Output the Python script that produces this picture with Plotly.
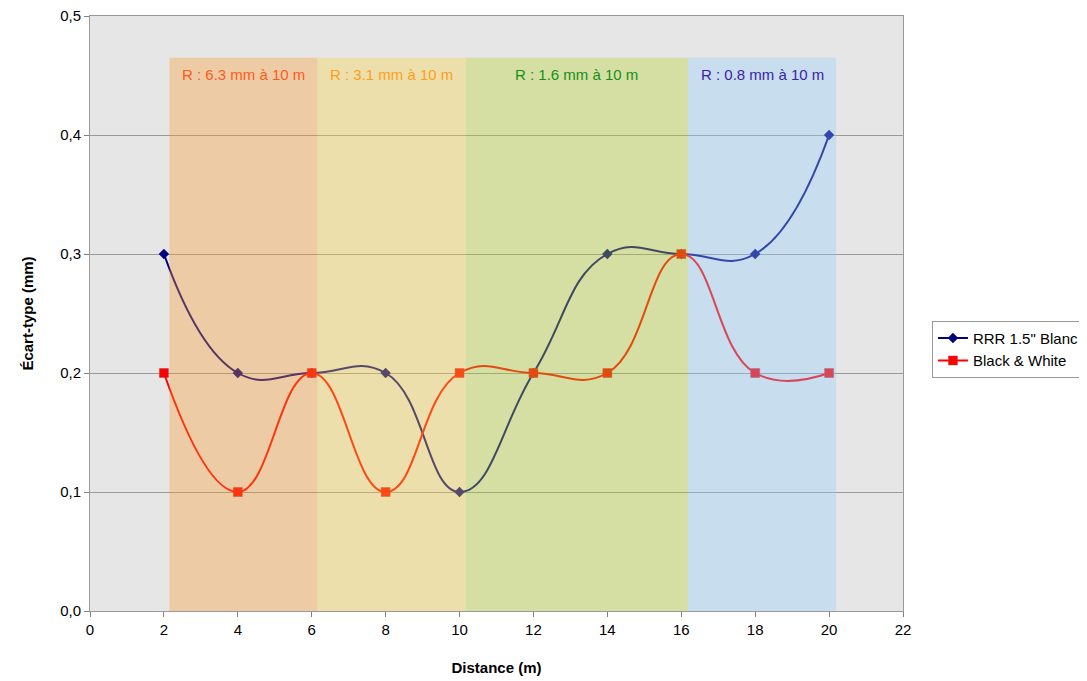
import plotly.graph_objects as go

distance = [2, 4, 6, 8, 10, 12, 14, 16, 18, 20]
rrr_blanc = [0.3, 0.2, 0.2, 0.2, 0.1, 0.2, 0.3, 0.3, 0.3, 0.4]
black_white = [0.2, 0.1, 0.2, 0.1, 0.2, 0.2, 0.2, 0.3, 0.2, 0.2]

band_starts = [2.15, 6.15, 10.17, 16.18]
band_ends = [6.15, 10.17, 16.18, 20.19]
band_top = 0.465
band_labels = ["R : 6.3 mm à 10 m", "R : 3.1 mm à 10 m", "R : 1.6 mm à 10 m", "R : 0.8 mm à 10 m"]
band_fill = ["rgb(250,153,44)", "rgb(250,210,59)", "rgb(181,210,36)", "rgb(144,204,253)"]
label_colors = ["#FF5A20", "#FF9E20", "#139013", "#3A22A8"]

fig = go.Figure()
fig.add_trace(go.Scatter(
    x=distance, y=rrr_blanc, name='RRR 1.5" Blanc', mode="lines+markers",
    line=dict(color="#000080", width=2, shape="spline", smoothing=1.3),
    marker=dict(symbol="diamond", size=8, color="#000080"),
))
fig.add_trace(go.Scatter(
    x=distance, y=black_white, name="Black & White", mode="lines+markers",
    line=dict(color="#FF0000", width=2, shape="spline", smoothing=1.3),
    marker=dict(symbol="square", size=9, color="#FF0000", line=dict(color="#B04040", width=0.5)),
))

for x0, x1, c, lab, lc in zip(band_starts, band_ends, band_fill, band_labels, label_colors):
    fig.add_shape(type="rect", xref="x", yref="y", x0=x0, x1=x1, y0=0, y1=band_top,
                  fillcolor=c, opacity=0.35, line=dict(width=0), layer="above")
    fig.add_annotation(x=(x0 + x1) / 2, y=0.451, xref="x", yref="y", text=lab,
                       showarrow=False, font=dict(family="Liberation Sans, Arial", size=15, color=lc))

fig.update_layout(
    width=1087, height=681,
    margin=dict(l=82, r=192, t=8, b=78),
    paper_bgcolor="white", plot_bgcolor="#E6E6E6",
    separators=", ",
    font=dict(family="Liberation Sans, Arial", size=15, color="black"),
    showlegend=True,
    legend=dict(xref="container", yref="container", x=0.85, y=0.499,
                xanchor="left", yanchor="middle",
                bgcolor="white", bordercolor="#999999", borderwidth=1,
                font=dict(size=15), itemwidth=30, tracegroupgap=0),
    xaxis=dict(range=[0, 22], tickvals=list(range(0, 23, 2)), showgrid=False, automargin=False,
               showline=True, mirror=True, linecolor="#999999", ticks="outside", ticklen=5,
               tickcolor="#808080", zeroline=False, ticklabeloverflow="allow",
               title=dict(text="<b>Distance (m)</b>", font=dict(size=15), standoff=25)),
    yaxis=dict(range=[0, 0.5], tickvals=[0, 0.1, 0.2, 0.3, 0.4, 0.5], tickformat=".1f",
               showgrid=True, gridcolor="#9A9A9A", gridwidth=1, automargin=False,
               showline=True, mirror=True, linecolor="#999999", ticks="outside", ticklen=5,
               tickcolor="#808080", zeroline=False, ticklabeloverflow="allow",
               title=dict(text="<b>Écart-type (mm)</b>", font=dict(size=15), standoff=22)),
)

fig.write_html("out.html")
